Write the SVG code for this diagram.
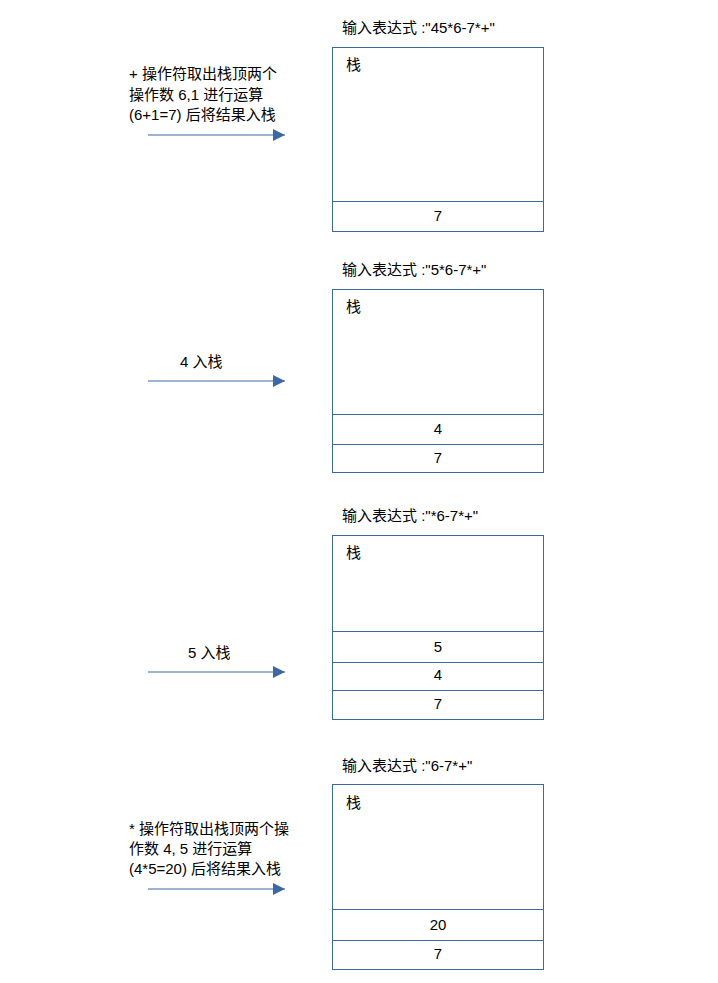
<svg xmlns="http://www.w3.org/2000/svg" width="718" height="983" viewBox="0 0 718 983">
<style>
text{font-family:"Liberation Sans","Noto Sans CJK SC",sans-serif;font-size:15px;fill:#000}
.c{text-anchor:middle}
.box{fill:#fff;stroke:#3c69a5;stroke-width:1}
.div{stroke:#3c69a5;stroke-width:1}
.arr{stroke:#3c69a5;stroke-width:1.2;fill:none;marker-end:url(#ah)}
</style>
<defs>
<marker id="ah" markerWidth="12" markerHeight="12" refX="12" refY="6" orient="auto" markerUnits="userSpaceOnUse">
<path d="M0,0 L12,6 L0,12 Z" fill="#3c69a5"/>
</marker>
</defs>
<rect width="718" height="983" fill="#fff"/>
<g id="stack1">
<text x="342" y="33">输入表达式 :"45*6-7*+"</text>
<rect class="box" x="332.5" y="47.5" width="211" height="184"/>
<line class="div" x1="332.5" y1="201.5" x2="543.5" y2="201.5"/>
<text x="346" y="70">栈</text>
<text class="c" x="438" y="221">7</text>
</g>
<g id="stack2">
<text x="342" y="275">输入表达式 :"5*6-7*+"</text>
<rect class="box" x="332.5" y="289.5" width="211" height="183"/>
<line class="div" x1="332.5" y1="414.5" x2="543.5" y2="414.5"/>
<line class="div" x1="332.5" y1="444.5" x2="543.5" y2="444.5"/>
<text x="346" y="312">栈</text>
<text class="c" x="438" y="434">4</text>
<text class="c" x="438" y="463">7</text>
</g>
<g id="stack3">
<text x="342" y="521">输入表达式 :"*6-7*+"</text>
<rect class="box" x="332.5" y="535.5" width="211" height="184"/>
<line class="div" x1="332.5" y1="631.5" x2="543.5" y2="631.5"/>
<line class="div" x1="332.5" y1="662.5" x2="543.5" y2="662.5"/>
<line class="div" x1="332.5" y1="690.5" x2="543.5" y2="690.5"/>
<text x="346" y="558">栈</text>
<text class="c" x="438" y="652">5</text>
<text class="c" x="438" y="680">4</text>
<text class="c" x="438" y="709">7</text>
</g>
<g id="stack4">
<text x="342" y="771">输入表达式 :"6-7*+"</text>
<rect class="box" x="332.5" y="784.5" width="211" height="185"/>
<line class="div" x1="332.5" y1="909.5" x2="543.5" y2="909.5"/>
<line class="div" x1="332.5" y1="940.5" x2="543.5" y2="940.5"/>
<text x="346" y="808">栈</text>
<text class="c" x="438" y="930">20</text>
<text class="c" x="438" y="959">7</text>
</g>
<g id="label1">
<text x="129" y="79">+ 操作符取出栈顶两个</text>
<text x="129" y="100">操作数 6,1 进行运算</text>
<text x="129" y="120">(6+1=7) 后将结果入栈</text>
</g>
<g id="label2"><text x="180" y="367">4 入栈</text></g>
<g id="label3"><text x="188" y="658">5 入栈</text></g>
<g id="label4">
<text x="129" y="834">* 操作符取出栈顶两个操</text>
<text x="129" y="854">作数 4, 5 进行运算</text>
<text x="129" y="874">(4*5=20) 后将结果入栈</text>
</g>
<g id="connectors">
<line class="arr" x1="148" y1="135" x2="285" y2="135"/>
<line class="arr" x1="148" y1="381" x2="285" y2="381"/>
<line class="arr" x1="148" y1="672" x2="285" y2="672"/>
<line class="arr" x1="148" y1="889" x2="285" y2="889"/>
</g>
</svg>
